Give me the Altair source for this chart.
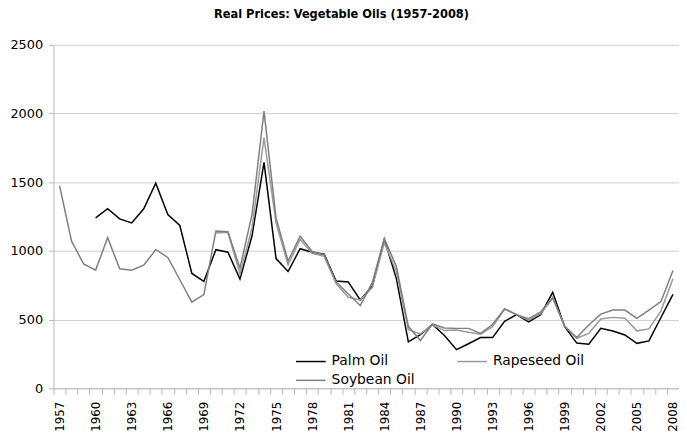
import altair as alt
import pandas as pd

years = list(range(1957, 2009))

palm = [None, None, None, 1240, 1307, 1233, 1204, 1307, 1493, 1264,
        1185, 836, 779, 1009, 990, 795, 1108, 1644, 944, 850,
        1016, 990, 976, 781, 774, 643, 745, 1083, 800, 338,
        390, 464, 384, 281, 324, 369, 369, 488, 536, 483,
        536, 698, 448, 329, 321, 436, 417, 388, 327, 345,
        515, 684]

rapeseed = [None, None, None, None, None, None, None, None, None, None,
            None, None, None, 1130, 1135, 832, 1168, 1825, 1204, 898,
            1084, 983, 960, 762, 662, 643, 733, 1060, 852, 427,
            396, 460, 420, 424, 407, 393, 448, 574, 536, 495,
            543, 655, 455, 364, 400, 504, 516, 509, 418, 432,
            564, 797]

soybean = [1475, 1071, 905, 860, 1096, 870, 860, 896, 1009, 952,
           790, 627, 682, 1145, 1140, 875, 1264, 2017, 1240, 926,
           1107, 995, 971, 774, 686, 602, 769, 1090, 888, 451,
           348, 468, 439, 436, 436, 400, 464, 579, 536, 507,
           555, 662, 448, 369, 460, 540, 569, 569, 509, 569,
           631, 857]

series_names = ["Palm Oil", "Rapeseed Oil", "Soybean Oil"]
series_colors = ["#000000", "#999999", "#7f7f7f"]

label_years = list(range(1957, 2009, 3))
tick_positions = [y - 0.5 for y in years] + [2008.5]
y_values = [0, 500, 1000, 1500, 2000, 2500]

rows = []
for name, vals in zip(series_names, [palm, rapeseed, soybean]):
    for yr, v in zip(years, vals):
        if v is not None:
            rows.append({"year": yr, "price": v, "oil": name})
df = pd.DataFrame(rows)

x_scale = alt.Scale(domain=[1956.5, 2008.5], nice=False, zero=False)
y_scale = alt.Scale(domain=[0, 2500], nice=False)

FONT = "DejaVu Sans"

lines = alt.Chart(df).mark_line(strokeWidth=1.5).encode(
    x=alt.X("year:Q", scale=x_scale,
            axis=alt.Axis(values=label_years, format="d", labelAngle=-90,
                          tickSize=0, labelPadding=13, grid=False, domain=False,
                          title=None, orient="bottom", labelFont=FONT,
                          labelFontSize=12, labelColor="#000000",
                          labelOverlap=False, labelFlush=False)),
    y=alt.Y("price:Q", scale=y_scale,
            axis=alt.Axis(values=y_values, format="d", tickSize=5,
                          tickColor="#b8b8b8", gridColor="#cfcfcf",
                          domainColor="#b8b8b8", labelPadding=6, title=None,
                          labelFont=FONT, labelFontSize=13,
                          labelColor="#000000")),
    color=alt.Color("oil:N",
                    scale=alt.Scale(domain=series_names, range=series_colors),
                    legend=alt.Legend(title=None, orient="none", legendX=253,
                                      legendY=313, columns=2,
                                      direction="horizontal",
                                      symbolType="M-3,0L3,0", symbolSize=100,
                                      symbolStrokeWidth=1.5, labelOffset=14,
                                      labelFont=FONT, labelFontSize=14,
                                      labelColor="#000000", columnPadding=40,
                                      rowPadding=5, padding=0)),
)

ticks = alt.Chart(df).mark_point(opacity=0).encode(
    x=alt.X("year:Q", scale=x_scale,
            axis=alt.Axis(values=tick_positions, labels=False, tickSize=6,
                          tickColor="#b8b8b8", domainColor="#b8b8b8",
                          grid=False, domain=True, title=None,
                          orient="bottom")),
    y=alt.Y("price:Q", scale=y_scale),
)

chart = alt.layer(ticks, lines).resolve_axis(x="independent").properties(
    width=632,
    height=347,
    title=alt.TitleParams("Real Prices: Vegetable Oils (1957-2008)",
                          font=FONT, fontSize=11.5, fontWeight="bold",
                          anchor="middle", dx=-25, offset=19,
                          color="#000000"),
    autosize=alt.AutoSizeParams(type="none"),
    padding={"left": 46, "top": 35, "right": 0, "bottom": 45},
).configure_view(stroke=None)

chart.save("out.html", embed_options={"renderer": "svg", "actions": False})
